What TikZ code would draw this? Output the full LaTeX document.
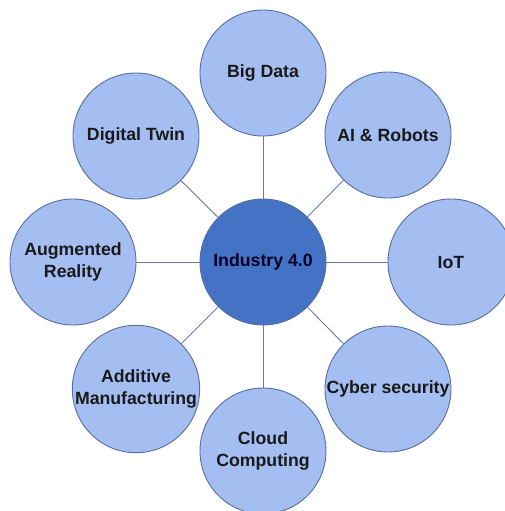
\documentclass[tikz,border=0pt]{standalone}
\usepackage{fontspec}
\setmainfont{Liberation Sans}
\usepackage{xcolor}
\usepackage{tikz}
\usetikzlibrary{positioning}
\definecolor{leaffill}{RGB}{164,190,242}
\definecolor{hubfill}{RGB}{68,114,196}
\definecolor{rimline}{RGB}{88,108,158}
\definecolor{spoke}{RGB}{104,122,162}
\tikzset{
    leaf/.style={circle, draw=rimline, fill=leaffill, line width=0.9pt, minimum size=126pt, inner sep=0pt, align=center, font=\fontsize{17.7}{22}\selectfont\bfseries, text=black!90},
    hub/.style={leaf, fill=hubfill, text=black!85!blue},
    link/.style={draw=spoke, line width=0.9pt},
}
\begin{document}
\begin{tikzpicture}[node distance=189pt, on grid]
    \useasboundingbox (-263pt,-249pt) rectangle (242pt,262pt);

    % Hub
    \node[hub] (hub) {Industry 4.0};

    % Ring of technologies
    \node[leaf, above=of hub] (bigdata) {Big Data};
    \node[leaf, above right=127pt and 125pt of hub] (airobots) {AI \& Robots};
    \node[leaf, right=188pt of hub] (iot) {IoT};
    \node[leaf, below right=127pt and 125pt of hub] (cyber) {Cyber security};
    \node[leaf, below=of hub] (cloud) {Cloud\\Computing};
    \node[leaf, below left=127pt and 127pt of hub] (additive) {Additive\\Manufacturing};
    \node[leaf, left=190pt of hub] (ar) {Augmented\\Reality};
    \node[leaf, above left=126pt and 127pt of hub] (twin) {Digital Twin};

    % Spokes
    \foreach \n in {bigdata, airobots, iot, cyber, cloud, additive, ar, twin}
        \draw[link] (hub) -- (\n);
\end{tikzpicture}
\end{document}
